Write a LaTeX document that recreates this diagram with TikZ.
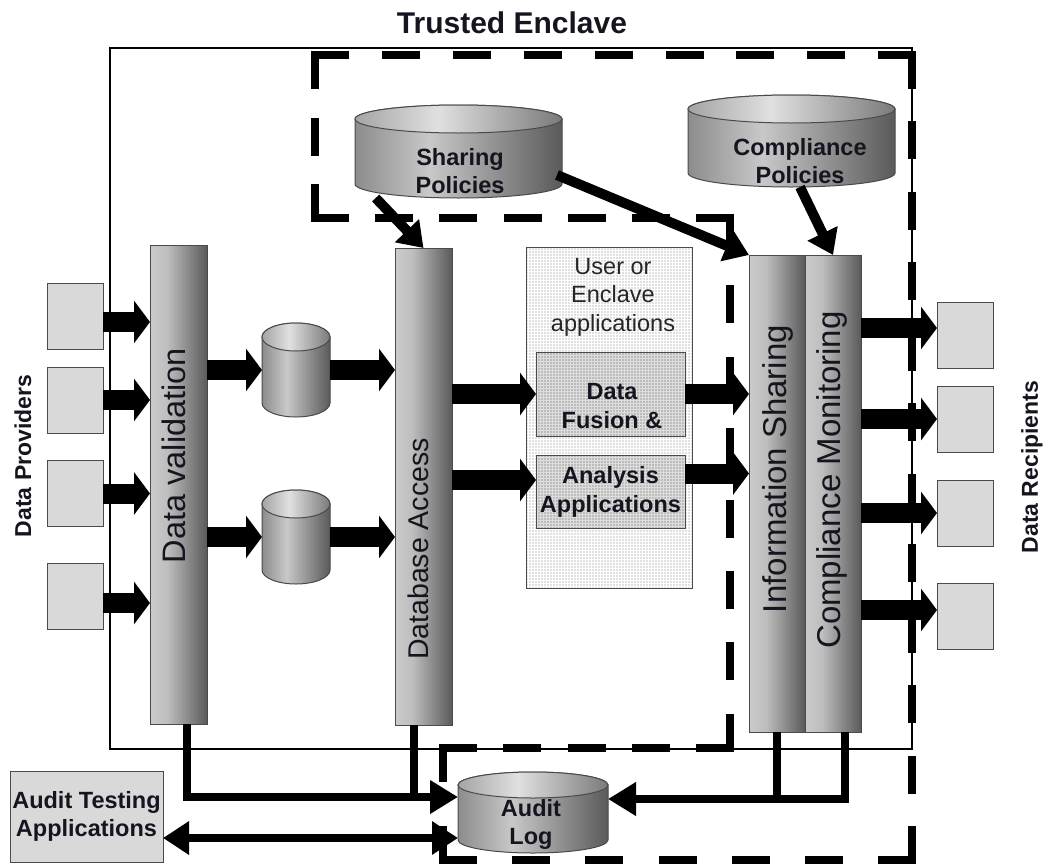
\documentclass[tikz,border=0pt]{standalone}
\usepackage{fontspec}
\setmainfont{Liberation Sans}
\usepackage{graphicx}
\usetikzlibrary{arrows.meta,patterns,calc}

\definecolor{boxgray}{HTML}{D9D9D9}
\definecolor{edgegray}{HTML}{4A4A4A}
\definecolor{inkblack}{HTML}{15151F}
\definecolor{appgray}{HTML}{E0E0E0}
\definecolor{fusiongray}{HTML}{BCBCBC}
\definecolor{barA}{HTML}{CBCBCB}
\definecolor{barB}{HTML}{BEBEBE}
\definecolor{barC}{HTML}{5A5A5A}
\definecolor{cylA}{HTML}{8C8C8C}
\definecolor{cylB}{HTML}{C8C8C8}
\definecolor{cylC}{HTML}{5A5A5A}
\definecolor{topA}{HTML}{A4A4A4}
\definecolor{topB}{HTML}{E0E0E0}
\definecolor{topC}{HTML}{7A7A7A}

% left-to-right gradients for the vertical bars and the cylinders
\pgfdeclarehorizontalshading{barshade}{100bp}{color(0bp)=(barA); color(25bp)=(barA); color(40bp)=(barB); color(75bp)=(barC); color(100bp)=(barC)}
\pgfdeclarehorizontalshading{cylbody}{100bp}{color(0bp)=(cylA); color(25bp)=(cylA); color(43bp)=(cylB); color(75bp)=(cylC); color(100bp)=(cylC)}
\pgfdeclarehorizontalshading{cyltop}{100bp}{color(0bp)=(topA); color(25bp)=(topA); color(45bp)=(topB); color(75bp)=(topC); color(100bp)=(topC)}

\tikzset{
  pics/dbcyl/.style n args={3}{code={
    \shade[shading=cylbody, draw=edgegray, line width=1pt]
      (-#1/2, #2/2-#3) -- (-#1/2, -#2/2+#3)
      arc[start angle=180, end angle=360, x radius=#1/2, y radius=#3]
      -- (#1/2, #2/2-#3)
      arc[start angle=0, end angle=180, x radius=#1/2, y radius=#3] -- cycle;
    \shade[shading=cyltop, draw=edgegray, line width=1pt]
      (0, #2/2-#3) ellipse[x radius=#1/2, y radius=#3];
    \node[minimum width=#1pt, minimum height=#2pt] (-box) at (0,0) {};
  }}
}

\begin{document}
\begin{tikzpicture}[x=1pt, y=1pt,
  every node/.style={inner sep=0pt, outer sep=0pt},
  title/.style={font=\bfseries\fontsize{30}{34}\selectfont, text=inkblack},
  enclave/.style={draw=black, line width=2.5pt},
  zone/.style={draw=black, line width=8pt, line cap=rect},
  src/.style={draw=edgegray, fill=boxgray, line width=1pt, minimum width=56pt, minimum height=66pt},
  bar/.style={draw=edgegray, line width=1pt, shade, shading=barshade, minimum width=57pt},
  vlabel/.style={text=inkblack},
  sidelabel/.style={font=\bfseries\fontsize{23}{26}\selectfont, text=inkblack},
  cyltext/.style={font=\bfseries\fontsize{23.5}{28}\selectfont, align=center, text=inkblack},
  apparea/.style={preaction={fill=appgray}, pattern=grid, pattern color=white, draw=edgegray, line width=1pt, minimum width=166pt, minimum height=341pt},
  appbox/.style={preaction={fill=fusiongray}, pattern=grid, pattern color=white!50!fusiongray, draw=edgegray, line width=1pt, minimum width=149pt},
  apptext/.style={font=\fontsize{23.5}{28.5}\selectfont, align=center, text=black!85},
  appbold/.style={font=\bfseries\fontsize{23.5}{28.5}\selectfont, align=center, text=inkblack},
  blk/.style={line width=20pt, -{Triangle[width=42pt,length=16pt]}},
  diag/.style={line width=10pt, -{Triangle[width=32pt,length=24pt]}},
  aud/.style={line width=8pt, line join=miter},
  audtip/.style={aud, -{Triangle[width=32pt,length=28pt]}},
  audboth/.style={aud, {Triangle[width=32pt,length=26pt]}-{Triangle[width=32pt,length=26pt]}}
]
\useasboundingbox (0,0) rectangle (1045,-865);

% enclave boundary
\draw[enclave] (110,-48) rectangle (912,-749);

% dashed sharing zone: each side gets its own spacing so that it
% starts and ends with a dash and every corner stays closed
\coordinate (zA) at (315,-55);
\coordinate (zB) at (912,-55);
\coordinate (zC) at (912,-860);
\coordinate (zD) at (443,-860);
\coordinate (zE) at (443,-748);
\coordinate (zF) at (730,-748);
\coordinate (zG) at (730,-218);
\coordinate (zH) at (315,-218);
\draw[zone, dash pattern=on 30pt off 40.9pt]  (zA) -- (zB);
\draw[zone, dash pattern=on 30pt off 40.45pt] (zB) -- (zC);
\draw[zone, dash pattern=on 30pt off 43.2pt]  (zD) -- (zC);
\draw[zone, dash pattern=on 30pt off 52pt]    (zE) -- (zD);
\draw[zone, dash pattern=on 30pt off 34.25pt] (zE) -- (zF);
\draw[zone, dash pattern=on 30pt off 41.4pt]  (zG) -- (zF);
\draw[zone, dash pattern=on 30pt off 34.2pt]  (zH) -- (zG);
\draw[zone, dash pattern=on 30pt off 36.5pt]  (zA) -- (zH);

\node[title] (title) at (512,-23) {Trusted Enclave};

% data providers
\node[src] (p1) at (75,-316) {};
\node[src] (p2) at (75,-400) {};
\node[src] (p3) at (75,-493.5) {};
\node[src] (p4) at (75,-596.5) {};
\node[sidelabel] (prov) at (23,-456) {\rotatebox{90}{Data Providers}};

% processing bars
\node[bar, minimum height=479pt] (dv) at (178.5,-484.5) {};
\node[bar, minimum height=477pt] (db) at (423.5,-486.5) {};
\node[bar, minimum width=56pt, minimum height=477pt] (is) at (777,-493.5) {};
\node[bar, minimum width=56pt, minimum height=477pt] (cm) at (833,-493.5) {};
\node[vlabel, font=\fontsize{32.5}{36}\selectfont] (dvt) at (173.5,-455.5) {\rotatebox{90}{Data validation}};
\node[vlabel, font=\fontsize{28.5}{32}\selectfont] (dbt) at (418,-549) {\rotatebox{90}{Database Access}};
\node[vlabel, font=\fontsize{33}{36}\selectfont] (ist) at (778,-469) {\rotatebox{90}{Information Sharing}};
\node[vlabel, font=\fontsize{33}{36}\selectfont] (cmt) at (832,-480) {\rotatebox{90}{Compliance Monitoring}};

% data stores
\pic (c1) at (296,-370) {dbcyl={68}{94}{14}};
\pic (c2) at (296,-537) {dbcyl={68}{94}{14}};
\pic (sp) at (458.5,-151.5) {dbcyl={207}{93}{14}};
\pic (cp) at (791.5,-141) {dbcyl={207}{92}{14}};
\pic (al) at (533,-812.5) {dbcyl={150}{81}{13}};
\node[cyltext] (spt) at (460,-171) {Sharing\\Policies};
\node[cyltext] (cpt) at (800,-161) {Compliance\\Policies};
\node[cyltext] (alt) at (531,-824) {Audit\\Log};

% enclave applications
\node[apparea] (apps) at (609,-417.5) {};
\node[apptext] (appt) at (613,-297) {User or\\Enclave\\applications};
\node[appbox, minimum height=84pt] (fus) at (610.5,-394) {};
\node[appbold] (fust) at (612,-406) {Data\\Fusion \&};
\node[appbox, minimum height=73pt] (ana) at (610.5,-491.5) {};
\node[appbold] (anat) at (610.5,-492) {Analysis\\Applications};

% data recipients
\node[src] (r1) at (965,-335) {};
\node[src] (r2) at (965,-419) {};
\node[src] (r3) at (965,-513) {};
\node[src] (r4) at (965,-616) {};
\node[sidelabel] (rec) at (1032,-467) {\rotatebox{90}{Data Recipients}};

% audit testing
\node[src, minimum width=153pt, minimum height=91pt, font=\bfseries\fontsize{23.5}{28.5}\selectfont, align=center, text=inkblack] (at) at (86.5,-816.5) {Audit Testing\\Applications};

% provider inputs
\coordinate (a1) at ($(p1.east)+(0,-6)$);
\coordinate (a4) at ($(p4.east)+(0,-6.5)$);
\draw[blk] (a1) -- (dv.west |- a1);
\draw[blk] (p2.east) -- (dv.west |- p2.east);
\draw[blk] (p3.east) -- (dv.west |- p3.east);
\draw[blk] (a4) -- (dv.west |- a4);

% through the stores
\draw[blk] (dv.east |- c1-box.west) -- (c1-box.west);
\draw[blk] (c1-box.east) -- (db.west |- c1-box.east);
\draw[blk] (dv.east |- c2-box.west) -- (c2-box.west);
\draw[blk] (c2-box.east) -- (db.west |- c2-box.east);

% into and out of the applications
\coordinate (a6) at ($(ana.west)+(0,11.5)$);
\coordinate (a7) at ($(ana.east)+(0,18)$);
\draw[blk] (db.east |- fus.west) -- (fus.west);
\draw[blk] (db.east |- a6) -- (a6);
\draw[blk] (fus.east) -- (is.west |- fus.east);
\draw[blk] (a7) -- (is.west |- a7);

% outputs to recipients
\coordinate (b1) at ($(r1.west)+(0,7)$);
\coordinate (b4) at ($(r4.west)+(0,6)$);
\draw[blk] (cm.east |- b1) -- (b1);
\draw[blk] (cm.east |- r2.west) -- (r2.west);
\draw[blk] (cm.east |- r3.west) -- (r3.west);
\draw[blk] (cm.east |- b4) -- (b4);

% policy feeds
\draw[diag] ($(sp-box.south west)!0.1!(sp-box.south east)$) -- (db.north);
\draw[diag] ($(sp-box.east)+(-5,-23.5)$) -- (is.north west);
\draw[diag] ($(cp-box.south)+(8.5,0)$) -- (cm.north);

% audit trail
\coordinate (dvdrop) at ($(dv.south)+(8.5,0)$);
\coordinate (dbdrop) at ($(db.south)+(-9.5,0)$);
\coordinate (alin) at ($(al-box.west)+(0,15.5)$);
\coordinate (cmdrop) at ($(cm.south)+(12,0)$);
\coordinate (alout) at ($(al-box.east)+(0,13.5)$);
\coordinate (atio) at ($(at.east)+(0,-21.5)$);
\draw[audtip] (dvdrop) |- (alin);
\draw[aud] (dbdrop) -- (dbdrop |- alin);
\draw[audtip] (cmdrop) |- (alout);
\draw[aud] (is.south) -- (is.south |- alout);
\draw[audboth] (atio) -- (al-box.west |- atio);
\end{tikzpicture}
\end{document}
